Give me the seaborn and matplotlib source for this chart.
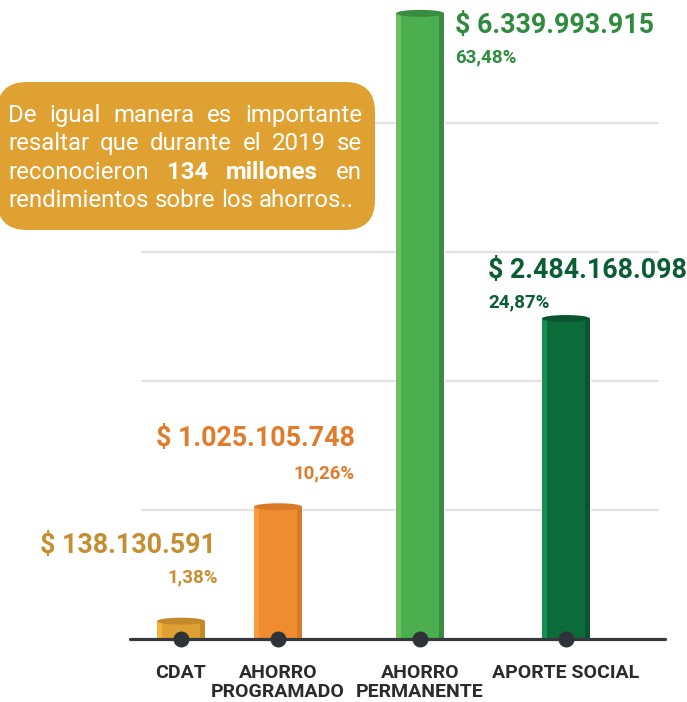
import numpy as np
import pandas as pd
import matplotlib
matplotlib.use('Agg')
import matplotlib.pyplot as plt
import seaborn as sns
from matplotlib.patches import Rectangle, Ellipse, FancyBboxPatch
from matplotlib.transforms import IdentityTransform

# data
categories = ['CDAT', 'AHORRO\nPROGRAMADO', 'AHORRO\nPERMANENTE', 'APORTE SOCIAL']
values = [138130591, 1025105748, 6339993915, 2484168098]
shares = [1.38, 10.26, 63.48, 24.87]

box_lines = ['De igual manera es importante',
             'resaltar que durante el 2019 se',
             'reconocieron 134 millones en',
             'rendimientos sobre los ahorros..']
bold_words = {'134', 'millones'}

# styles
bar_colors = ['#DFA232', '#EE8C2F', '#4BAE4F', '#0C6B3B']
light_colors = ['#F3B33D', '#F79C43', '#6DC05C', '#15914F']
dark_colors = ['#C48A2A', '#D97A27', '#3A8D40', '#0A5530']
label_colors = ['#C58F30', '#E07C2C', '#2F8B3E', '#0B5D33']

# layout (pixels)
W, H, DPI = 687, 702, 100
slots = [0, 0.756, 1.863, 3.0]
PX_X = 128.3          # pixels per slot unit
PX_Y = 129            # pixels per 1.000 millones
BASE_Y = 639          # baseline pixel row
AX_LEFT, AX_RIGHT = 130, 665
CAP = 4.85            # tallest bar is drawn broken here
BW = 48 / PX_X
value_off = [(35, 76, 'right'), (77, 68, 'right'), (35, -12, 'left'), (-78, 48, 'left')]
pct_off = [(37, 44), (77, 33), (35, -44), (-78, 16)]

sns.set_theme(style='white')
plt.rcParams['font.family'] = ['Roboto', 'DejaVu Sans']

fig = plt.figure(figsize=(W / DPI, H / DPI), dpi=DPI, facecolor='white')
ax = fig.add_axes([AX_LEFT / W, (H - BASE_Y) / H, (AX_RIGHT - AX_LEFT) / W, BASE_Y / H])

heights = np.minimum(np.array(values) / 1e9, CAP)
df = pd.DataFrame({'pos': slots, 'height': heights, 'cat': categories})

sns.barplot(data=df, x='pos', y='height', hue='cat', palette=bar_colors,
            native_scale=True, legend=False, errorbar=None, saturation=1,
            ax=ax, zorder=3)

ax.set_xlim(-51 / PX_X, (AX_RIGHT - AX_LEFT - 51) / PX_X)
ax.set_ylim(0, BASE_Y / PX_Y)

# gridlines
for g in [1, 2, 3, 4]:
    ax.axhline(g, xmin=12 / 535, xmax=528 / 535, color='#E2E2E2', lw=1.6, zorder=1)

# cylinder look
cap_h = 7 / PX_Y
for i, p in enumerate(ax.patches[:len(values)]):
    cx = p.get_x() + p.get_width() / 2
    p.set_width(BW)
    p.set_x(cx - BW / 2)
    h = p.get_height()
    x0 = cx - BW / 2
    ax.add_patch(Rectangle((x0, 0), BW * 0.11, h, color=light_colors[i], lw=0, zorder=3.5))
    ax.add_patch(Rectangle((x0 + BW * 0.89, 0), BW * 0.11, h, color=dark_colors[i], lw=0, zorder=3.5))
    ax.add_patch(Ellipse((cx, h), BW, cap_h, color=dark_colors[i], lw=0, zorder=3.6))

    vx, vy, ha = value_off[i]
    ax.annotate('$ ' + f'{values[i]:,}'.replace(',', '.'), (cx, h), xytext=(vx, vy),
                textcoords='offset pixels', ha=ha, va='center', fontsize=19.3,
                fontweight='bold', color=label_colors[i], annotation_clip=False)
    px, py = pct_off[i]
    ax.annotate(f'{shares[i]:.2f}'.replace('.', ',') + '%', (cx, h), xytext=(px, py),
                textcoords='offset pixels', ha=ha, va='center', fontsize=13.5,
                fontweight='bold', color=label_colors[i], annotation_clip=False)

# baseline and dots
ax.axhline(0, color='#35383C', lw=2.3, zorder=4, clip_on=False)
ax.scatter(slots, [0] * len(slots), s=110, color='#2F3337', zorder=5, clip_on=False)

ax.set_xticks(slots, categories)
ax.set_yticks([])
ax.tick_params(axis='x', length=0, pad=18)
for t in ax.get_xticklabels():
    t.set_fontsize(14)
    t.set_fontweight('bold')
    t.set_color('#2B2B2B')
    t.set_linespacing(1.1)
ax.set_xlabel('')
ax.set_ylabel('')
sns.despine(ax=ax, left=True, bottom=True)

# text box
box = FancyBboxPatch((-3, H - 230), 378, 148, boxstyle='round,pad=0,rounding_size=30',
                     transform=IdentityTransform(), fc='#DFA131', ec='none', zorder=6)
fig.add_artist(box)

renderer = fig.canvas.get_renderer()
left, right = 8, 362
for i, line in enumerate(box_lines):
    y = H - (122 + i * 28.3)
    words = line.split()
    arts = [fig.text(0, y, w, transform=IdentityTransform(), fontsize=17.3, color='white',
                     fontweight='bold' if w in bold_words else 'normal',
                     ha='left', va='baseline', zorder=7) for w in words]
    widths = [t.get_window_extent(renderer).width for t in arts]
    if i < len(box_lines) - 1:
        gap = (right - left - sum(widths)) / (len(words) - 1)
    else:
        gap = 17.3 * DPI / 72 * 0.25
    x = left
    for t, wd in zip(arts, widths):
        t.set_x(x)
        x += wd + gap

fig.savefig('out.png', dpi=DPI)
